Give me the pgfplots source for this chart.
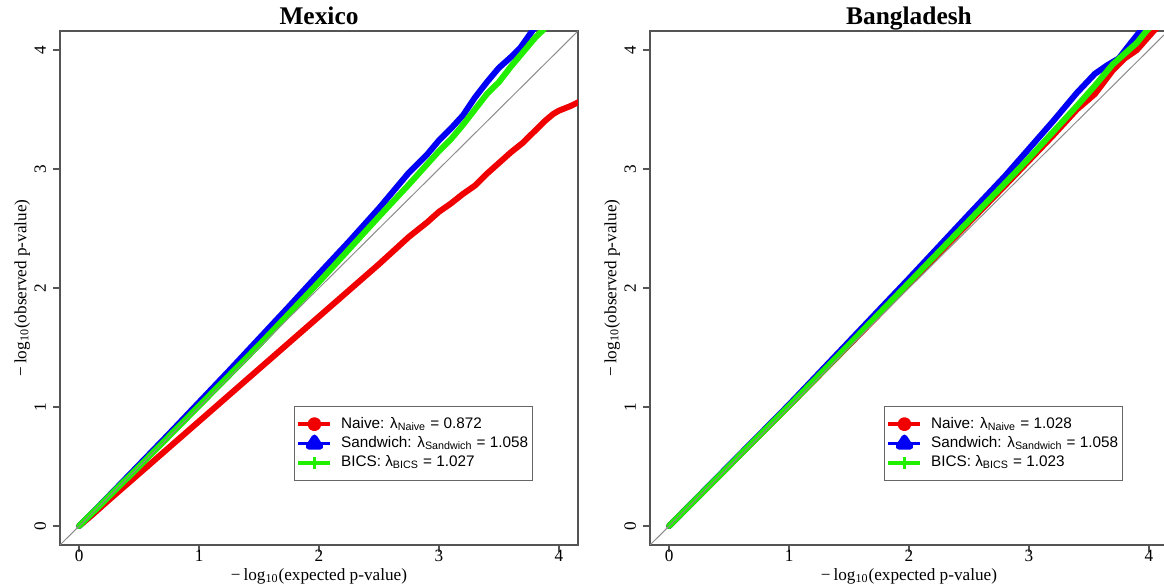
\documentclass[border=0pt]{standalone}
\usepackage{fontspec}
\setmainfont{Liberation Serif}
\setsansfont{Liberation Sans}
\usepackage{pgfplots}
\pgfplotsset{compat=1.18}

\definecolor{rred}{HTML}{F00000}
\definecolor{rblue}{HTML}{0000F5}
\definecolor{rgreen}{HTML}{22EE00}
\definecolor{frame}{HTML}{555555}

\pgfplotsset{
  every axis title shift=0pt,
  qq/.style={
    scale only axis, width=259pt, height=257pt,
    xmin=-0.16, xmax=4.16, ymin=-0.16, ymax=4.16,
    xtick={0,1,2,3,4}, ytick={0,1,2,3,4},
    axis line style={draw=frame, line width=0.7pt},
    tick align=outside, tick pos=left,
    major tick length=3.5pt,
    every tick/.style={frame, line width=0.7pt},
    /pgf/number format/assume math mode=true,
    tick label style={font=\fontsize{8.6}{10}\selectfont},
    yticklabel style={rotate=90, anchor=south},
    xticklabel style={anchor=north, yshift=4.5pt},
    title style={font=\bfseries\fontsize{12.7}{15}\selectfont, at={(axis description cs:0.5,1.0117)}, anchor=base},
    xlabel style={font=\fontsize{8.6}{10}\selectfont, at={(axis description cs:0.5,-0.070)}, anchor=base},
    ylabel style={font=\fontsize{8.6}{10}\selectfont, at={(axis description cs:-0.065,0.5)}, rotate=0, anchor=base},
    xlabel={−\,log\textsubscript{10}(expected p-value)},
    ylabel={−\,log\textsubscript{10}(observed p-value)},
    legend cell align=left,
    legend style={at={(axis description cs:0.452,0.124)}, anchor=south west,
      draw=black!60, line width=0.6pt, inner xsep=1pt, inner ysep=4pt,
      font=\sffamily\fontsize{7.65}{8.5}\selectfont,
      nodes={inner sep=1pt, text height=5.8pt, text depth=1.9pt},
      /tikz/every odd column/.append style={column sep=3.5pt},
      /tikz/every even column/.append style={column sep=1.5pt}},
    every axis plot/.append style={line width=3pt, line join=round, line cap=round},
  },
  naive/.style={rred, legend image code/.code={
      \draw[line width=1.7pt, line cap=butt] (0pt,0pt) -- (16pt,0pt);
      \fill (8pt,0pt) circle (2pt);}},
  sand/.style={rblue, legend image code/.code={
      \draw[line width=1.7pt, line cap=butt] (0pt,0pt) -- (16pt,0pt);
      \fill (8pt,3pt) -- (5.1pt,-1.5pt) -- (10.9pt,-1.5pt) -- cycle;}},
  bics/.style={rgreen, legend image code/.code={
      \draw[line width=1.7pt, line cap=butt] (0pt,0pt) -- (16pt,0pt);
      \draw[line width=1.7pt, line cap=butt] (8pt,-3pt) -- (8pt,3pt);}},
  diag/.style={forget plot, draw=black!45, line width=0.5pt, line cap=butt},
}

\begin{document}
\begin{tikzpicture}
\begin{axis}[qq, at={(30pt,21.5pt)}, anchor=south west, title={Mexico}]
\addplot[naive] coordinates {(0,0) (0.1,0.085) (0.25,0.22) (0.5,0.44) (0.75,0.66) (1.0,0.88) (1.25,1.10) (1.5,1.32) (1.75,1.54) (2.0,1.76) (2.25,1.98) (2.5,2.20) (2.75,2.43) (2.9,2.55) (3.0,2.64) (3.1,2.71) (3.2,2.79) (3.3,2.86) (3.4,2.96) (3.5,3.05) (3.6,3.14) (3.7,3.22) (3.8,3.32) (3.88,3.40) (3.95,3.46) (4.0,3.49) (4.05,3.51) (4.1,3.53) (4.16,3.56) (4.3,3.62)};
\addlegendentry{Naive: λ\textsubscript{Naive} = 0.872}
\addplot[sand] coordinates {(0,0) (0.1,0.1) (0.25,0.255) (0.5,0.515) (0.75,0.775) (1.0,1.04) (1.25,1.305) (1.5,1.575) (1.75,1.845) (2.0,2.12) (2.25,2.39) (2.5,2.67) (2.75,2.97) (2.9,3.12) (3.0,3.24) (3.1,3.34) (3.2,3.45) (3.3,3.60) (3.4,3.73) (3.5,3.85) (3.6,3.94) (3.68,4.02) (3.75,4.12) (3.8,4.19) (3.9,4.30)};
\addlegendentry{Sandwich: λ\textsubscript{Sandwich} = 1.058}
\addplot[bics] coordinates {(0,0) (0.1,0.1) (0.25,0.25) (0.5,0.5) (0.75,0.755) (1.0,1.01) (1.25,1.265) (1.5,1.52) (1.75,1.785) (2.0,2.05) (2.25,2.325) (2.5,2.60) (2.75,2.87) (3.0,3.15) (3.1,3.25) (3.2,3.37) (3.3,3.50) (3.4,3.63) (3.5,3.73) (3.6,3.86) (3.7,3.98) (3.8,4.10) (3.87,4.17) (3.95,4.28)};
\addlegendentry{BICS: λ\textsubscript{BICS} = 1.027}
\addplot[diag] coordinates {(-0.3,-0.3) (4.5,4.5)};
\end{axis}
\begin{axis}[qq, at={(325pt,21.5pt)}, anchor=south west, title={Bangladesh}]
\addplot[naive] coordinates {(0,0) (0.5,0.505) (1.0,1.01) (1.5,1.52) (2.0,2.035) (2.5,2.55) (2.8,2.86) (3.0,3.07) (3.2,3.28) (3.4,3.50) (3.55,3.63) (3.7,3.83) (3.8,3.93) (3.9,4.00) (4.04,4.16) (4.15,4.26)};
\addlegendentry{Naive: λ\textsubscript{Naive} = 1.028}
\addplot[sand] coordinates {(0,0) (0.5,0.51) (1.0,1.02) (1.5,1.55) (2.0,2.08) (2.5,2.62) (2.8,2.94) (3.0,3.17) (3.2,3.40) (3.4,3.64) (3.55,3.80) (3.65,3.87) (3.75,3.93) (3.85,4.06) (3.93,4.16) (4.05,4.30)};
\addlegendentry{Sandwich: λ\textsubscript{Sandwich} = 1.058}
\addplot[bics] coordinates {(0,0) (0.5,0.505) (1.0,1.01) (1.5,1.525) (2.0,2.045) (2.5,2.565) (2.8,2.88) (3.0,3.09) (3.2,3.31) (3.4,3.53) (3.55,3.70) (3.7,3.88) (3.8,3.97) (3.9,4.06) (3.98,4.16) (4.1,4.28)};
\addlegendentry{BICS: λ\textsubscript{BICS} = 1.023}
\addplot[diag] coordinates {(-0.3,-0.3) (4.5,4.5)};
\end{axis}
\pgfresetboundingbox
\path[use as bounding box] (0,0) rectangle (582pt,294pt);
\end{tikzpicture}
\end{document}
